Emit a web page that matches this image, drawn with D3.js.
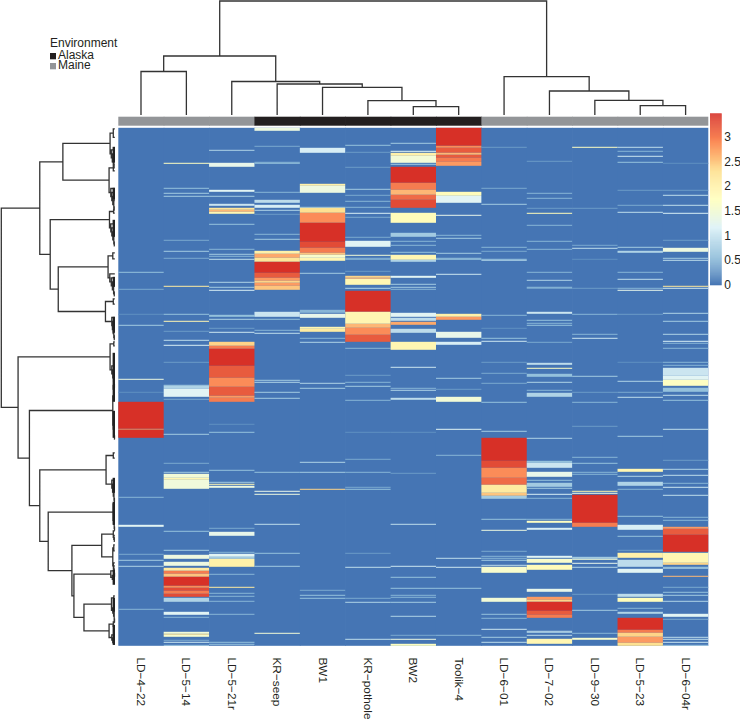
<!DOCTYPE html>
<html><head><meta charset="utf-8">
<script src="https://cdn.jsdelivr.net/npm/d3@7"></script>
<style>html,body{margin:0;padding:0;background:#fff}svg{display:block}text{font-family:"Liberation Sans",Arial,sans-serif;fill:#231f20}</style>
</head><body><svg id="c" width="740" height="720"></svg>
<script>
const columns = ["LD\u22124\u221222","LD\u22125\u221214","LD\u22125\u221221r","KR\u2212seep","BW1","KR\u2212pothole","BW2","Toolik\u22124","LD\u22126\u221201","LD\u22127\u221202","LD\u22129\u221230","LD\u22125\u221223","LD\u22126\u221204r"];
const environment = ["Maine","Maine","Maine","Alaska","Alaska","Alaska","Alaska","Alaska","Maine","Maine","Maine","Maine","Maine"];
const envNames = ["Alaska","Maine"];
const envColors = ["#231f20","#939598"];
const rampColors = ["#4575b4","#91bfdb","#e0f3f8","#ffffbf","#fee090","#fc8d59","#d73027"];
const legendTicks = [0,0.5,1,1.5,2,2.5,3];
const maxValue = 3.47;
const rowCount = 518;

// [row, value] = one row, [firstRow, endRow, value] = a run of rows
const col0 = [[144,.6],[161,.4],[186,.2],[197,.7],[251,1.4],[264,.2],[274,301,3.47],[301,2.9],[302,310,3.47],[369,.5],[397,399,1.2],[426,.4],[432,.7],[438,.8],[481,.5]];
const col1 = [[35,1.7],[60,.6],[65,.7],[68,.7],[112,.4],[123,.7],[130,.4],[158,2.1],[186,187,.6],[193,1.9],[203,.3],[212,.9],[217,1.1],[234,.3],[257,258,.7],[258,261,.8],[261,269,1.2],[271,.4],[306,.7],[335,.4],[344,.7],[346,350,1.5],[350,352,1.9],[352,361,1.45],[403,.6],[422,.7],[427,431,1.4],[434,438,1.4],[440,443,2.1],[443,446,3],[446,449,2.5],[449,458,3.47],[458,460,2.9],[460,463,3.3],[463,466,3],[466,469,3.3],[470,474,.8],[484,487,1.2],[489,.5],[504,506,1.5],[506,507,2.3],[507,509,1.6],[512,.4],[514,1],[517,.7]];
const col2 = [[22,.8],[35,39,1.3],[62,64,1.2],[68,.7],[76,78,1],[80,82,2.2],[82,84,2.6],[84,86,1.9],[96,.6],[121,.5],[126,.7],[131,.9],[128,.5],[154,.8],[159,.7],[162,1.1],[187,189,.6],[191,.8],[200,.3],[204,1],[214,218,2.4],[218,221,3],[221,238,3.47],[238,250,3.2],[250,259,2.9],[259,268,3.2],[268,270,2.8],[270,274,3],[296,.2],[304,.6],[342,.6],[354,.7],[356,1.9],[358,360,1.4],[400,.4],[404,408,1.3],[424,.5],[426,429,1.2],[429,431,.7],[431,439,2],[446,.5],[459,2.1],[465,.5],[468,.5],[473,.5],[486,.5],[514,.6],[516,.6]];
const col3 = [[0,3,1.4],[18,.4],[34,.5],[35,.6],[64,.5],[72,75,.9],[77,80,1.1],[82,.8],[86,.3],[106,.5],[111,.7],[123,126,2],[126,130,2.7],[130,134,2.2],[134,145,3.47],[145,150,3.2],[150,153,2.8],[153,155,2.4],[155,158,2.8],[158,162,2.5],[184,189,1],[191,.6],[202,203,.5],[205,.9],[252,.7],[254,.8],[264,.7],[270,.7],[344,.6],[363,1.3],[366,367,1.4],[396,.9],[425,.6],[438,.7],[505,1.5]];
const col4 = [[20,25,1.1],[56,58,2],[58,65,1.4],[79,.7],[80,85,2.3],[85,95,2.9],[95,114,3.47],[114,120,3.3],[120,125,3],[125,127,2.5],[127,130,1.6],[130,133,1.9],[145,.7],[182,185,.5],[186,190,1.3],[199,201,1.9],[201,204,2.1],[210,.5],[214,.8],[255,.8],[260,.7],[334,.8],[344,.7],[361,362,2.4],[462,.4],[467,.6],[470,.6]];
const col5 = [[17,.6],[24,.3],[39,.3],[61,.7],[67,.4],[73,.5],[79,.5],[85,1.1],[89,.4],[109,.4],[113,119,1.2],[127,1.5],[130,.5],[131,.5],[143,.3],[148,150,2.4],[150,151,2.7],[151,157,1.9],[160,.8],[163,184,3.47],[184,196,1.9],[196,200,2.6],[200,207,2.9],[207,214,3.2],[220,.5],[247,.3],[254,.5],[258,.7],[272,.5],[304,.2],[331,.4],[344,.5],[359,.4],[361,.6],[425,.3],[439,.9],[470,.4],[474,.8],[511,.9]];
const col6 = [[15,16,.7],[23,1.2],[25,28,2],[28,35,1.5],[36,.7],[39,55,3.47],[55,62,3],[62,67,2.6],[67,72,3.1],[72,80,3.3],[85,95,1.8],[105,109,.7],[113,.5],[117,.5],[124,.6],[127,132,1.9],[132,134,.8],[148,150,1.2],[156,.7],[159,.7],[161,.5],[185,189,1.2],[190,193,.9],[194,197,2.7],[201,205,.9],[214,222,1.9],[239,1],[260,.5],[262,263,.8],[270,272,.9],[304,.2],[345,.3],[396,.9],[438,1],[449,.6],[460,.6],[467,.5],[469,.5],[474,.7],[488,.8],[507,.4],[511,1.4],[516,518,1.7]];
const col7 = [[0,18,3.47],[18,20,2.9],[20,25,3.2],[25,27,2.6],[27,30,3.2],[30,34,3],[34,38,2.8],[64,68,1.8],[68,75,1.2],[87,88,1.3],[107,.5],[110,.7],[125,.7],[130,.6],[131,.6],[146,1],[186,189,2],[189,192,2.8],[204,210,1.3],[214,217,1.1],[250,251,.7],[261,.3],[269,274,1.5],[301,1.2],[327,.5],[430,.9],[439,1],[460,.6],[507,.5]];
const col8 = [[19,.3],[60,.4],[76,.7],[119,.5],[123,.4],[131,.6],[132,.8],[187,188,.5],[200,.2],[210,.6],[213,1],[234,.3],[245,.4],[255,.4],[274,.6],[303,.7],[310,333,3.47],[333,340,3.3],[340,350,2.9],[350,357,3.1],[357,365,2.1],[365,368,2.5],[368,371,.7],[391,.6],[402,1.4],[423,.4],[428,.5],[430,.5],[432,.7],[437,.9],[439,445,1.6],[470,474,1.5],[486,.6],[490,.5],[501,1],[509,.7],[514,.9]];
const col9 = [[33,.3],[65,.5],[70,.5],[80,.3],[85,86,1.8],[97,.5],[113,.5],[121,.5],[144,.5],[152,.8],[159,.6],[160,.4],[184,186,1],[192,.6],[195,.5],[197,.6],[214,.4],[235,237,.9],[240,1.7],[246,249,.6],[254,.8],[262,.5],[265,269,.8],[310,.8],[333,335,.6],[335,340,1],[344,349,1.3],[352,.6],[355,359,.7],[360,.7],[366,1.1],[370,.5],[391,.5],[393,395,1.7],[400,402,1.1],[428,430,1.2],[431,435,1.6],[437,442,1.8],[461,464,1.3],[469,472,2.8],[472,474,2.4],[474,483,3.47],[483,487,3.2],[487,490,3],[503,.9],[504,.8],[507,.9],[511,516,1.9]];
const col10 = [[19,1.7],[80,.3],[117,.4],[120,.9],[131,.2],[160,.3],[186,.5],[206,.5],[210,1],[248,.7],[264,.3],[274,.5],[298,.3],[329,330,.5],[335,.6],[344,.5],[346,.5],[363,2],[365,1.4],[367,395,3.47],[395,399,3],[429,431,.7],[431,1.5],[435,1.3],[439,.8],[466,.3],[482,.7],[505,.5],[510,512,1.6]];
const col11 = [[19,.9],[23,.5],[28,1],[34,.6],[62,.3],[77,.4],[84,.9],[119,.7],[123,125,.8],[144,.5],[151,.9],[160,.5],[162,1.3],[186,.3],[234,.2],[253,.8],[264,.4],[269,.9],[308,.7],[341,344,1.9],[348,.8],[354,358,.8],[361,.5],[388,.6],[397,402,1.1],[408,.6],[422,.3],[425,430,2],[432,439,.9],[441,445,1.2],[466,469,.9],[470,474,1.8],[480,.5],[484,486,.8],[490,502,3.47],[502,505,3],[505,509,2.4],[509,515,2.8],[515,518,2.3]];
const col12 = [[35,.2],[62,.3],[67,.9],[77,.9],[85,1.1],[112,.3],[120,124,1.4],[130,.7],[132,.9],[158,159,2.2],[160,1],[185,.8],[193,.7],[206,.8],[213,1.1],[215,.5],[220,.5],[234,.5],[237,.5],[240,248,1],[248,252,1.2],[252,258,1.7],[260,264,.6],[267,.9],[272,.6],[301,.9],[332,.3],[341,.8],[347,.9],[355,.5],[359,1],[367,.9],[389,.5],[392,.5],[399,401,2.8],[401,407,3.2],[407,424,3.47],[425,435,1.9],[435,437,2.4],[439,.7],[440,.7],[448,449,2.6],[459,.4],[464,.6],[467,.7],[473,.8],[486,489,1.2],[491,.4],[509,.9],[511,.9],[514,1],[517,.7]];
const columnBands = [col0,col1,col2,col3,col4,col5,col6,col7,col8,col9,col10,col11,col12];

// dendrograms: [mergeHeight, childA, childB]; leaves are column or row positions
const columnTree = [114,
  [59,[43.5,0,1],[33.5,2,[31,3,[27.7,4,[14.3,5,[8.3,6,7]]]]]],
  [38.3,8,[24,9,[14.7,10,[9.3,11,12]]]]];

const c1 = [4.7,[1.5,1,9.6],[3.5,22,[2.5,26,[1.5,30,[.7,36,40]]]]];
const c2 = [5.7,[1.5,37,43],[4,60.7,[3,64.7,[2,68.7,[1,72.7,[.6,79,82.4]]]]]];
const c3 = [5.3,[1.2,82,85.4],[4,96,[3,100,[2,104,[1,108,[.5,114,118]]]]]];
const c4 = [6.7,[2,125,131],[5,146,[3.5,150,[2.4,154,[1.2,158,[.5,164,168]]]]]];
const c5 = [9.3,[1.5,171,176.4],[3,189.7,[2.4,193.7,[1.6,197.7,[1,201.7,[.5,207.7,211.7]]]]]];
const c6 = [4.7,[1,214,218],[3,238,[2,242,[1.2,246,[.7,250,[.4,256,260]]]]]];
const cRed = [2,268,[1.5,293.4,[1,297.4,[.5,301.4,[.3,307.4,311.4]]]]];
const c7 = [8.7,[1.5,325,330.4],[3,352.3,[2.2,356.3,[1.5,360.3,[.8,364.3,[.4,370.3,374.3]]]]]];
const c8 = [1.7,376,[1.2,388.6,[.6,392.6,[.3,398.6,402.6]]]];
const c9 = [1.5,403,[1,407.6,[.5,409.6,413.6]]];
const c10 = [2,[1,417,423],[1.4,435,[1,438,[.6,441,[.3,445,449]]]]];
const c11 = [4,443,[2.5,447.6,[1.2,450,[.6,452,454.4]]]];
const c12 = [3.3,[1,468,472],[2,480,[1.2,482,[.6,484,[.3,490.8,494.8]]]]];
const c13 = [5.7,[1.5,494,498.6],[3,507,[2,510,[1,513,516.6]]]];
const rowTree = [113,
  [74.7,[51.7,c1,c2],[64.3,c3,[56.3,c4,c5]]],
  [96.3,c6,[85,cRed,[74.7,c7,[66.3,c8,[42.7,[13,c9,c10],[40.7,c11,[30.7,c12,c13]]]]]]]];
// row runs whose many tiny merges read as a solid edge in the dendrogram
const denseLeafRuns = [[19,35],[60,72],[92,109],[149,159],[189,205],[225,262],[257,274],[283,310],[350,365],[374,397],[442,457],[470,484],[497,517]];

const svg = d3.select("#c");
const ink = "#333333";
const x = d3.scaleBand().domain(d3.range(columns.length)).range([118.3,708.3]).paddingInner(0).paddingOuter(0);
const y = d3.scaleLinear().domain([0,rowCount]).range([127.8,645.8]);
const color = d3.scaleLinear().domain(rampColors.map((_,i)=>i/(rampColors.length-1)*maxValue)).range(rampColors).interpolate(d3.interpolateRgb);
const cellW = i => x.bandwidth() + (i < columns.length-1 ? 0.7 : 0);

// heatmap
const cols = svg.append("g").selectAll("g").data(columnBands).join("g").attr("transform",(d,i)=>`translate(${x(i)},0)`);
cols.append("rect").attr("x",0).attr("width",(d,i)=>cellW(i)).attr("y",y(0)).attr("height",y(rowCount)-y(0)).attr("fill",color(0));
cols.each(function(bands,i){
  d3.select(this).selectAll("rect.band").data(bands.map(b=>b.length===2?[b[0],b[0]+1,b[1]]:b)).join("rect").attr("class","band")
    .attr("x",0).attr("width",cellW(i)).attr("y",d=>y(d[0])).attr("height",d=>y(d[1])-y(d[0])).attr("fill",d=>color(d[2]));
});
// later columns sit on top of the overlap so no seams show
// annotation strip
svg.append("g").selectAll("rect").data(environment).join("rect")
  .attr("x",(d,i)=>x(i)).attr("width",(d,i)=>cellW(i)).attr("y",116.7).attr("height",9)
  .attr("fill",d=>envColors[envNames.indexOf(d)]);

// column dendrogram
const hTop = d3.scaleLinear().domain([0,114]).range([115,1]);
function drawTop(n,p){
  if(typeof n==="number") return {c:x(n)+x.bandwidth()/2,h:0};
  const a=drawTop(n[1],p), b=drawTop(n[2],p), Y=hTop(n[0]);
  p.moveTo(a.c,hTop(a.h)); p.lineTo(a.c,Y); p.lineTo(b.c,Y); p.lineTo(b.c,hTop(b.h));
  return {c:(a.c+b.c)/2,h:n[0]};
}
const pTop=d3.path(); drawTop(columnTree,pTop);
svg.append("path").attr("d",pTop.toString()).attr("fill","none").attr("stroke",ink).attr("stroke-width",1.3);

// row dendrogram
const hLeft = d3.scaleLinear().domain([0,113]).range([114.8,1.3]);
function drawLeft(n,p){
  if(typeof n==="number") return {c:y(n),h:0};
  const a=drawLeft(n[1],p), b=drawLeft(n[2],p), X=hLeft(n[0]);
  p.moveTo(hLeft(a.h),a.c); p.lineTo(X,a.c); p.lineTo(X,b.c); p.lineTo(hLeft(b.h),b.c);
  return {c:(a.c+b.c)/2,h:n[0]};
}
const pLeft=d3.path(); drawLeft(rowTree,pLeft);
svg.append("path").attr("d",pLeft.toString()).attr("fill","none").attr("stroke",ink).attr("stroke-width",1.3);
svg.append("g").selectAll("line").data(denseLeafRuns).join("line")
  .attr("x1",hLeft(1)).attr("x2",hLeft(1)).attr("y1",d=>y(d[0])).attr("y2",d=>y(d[1]))
  .attr("stroke","#222").attr("stroke-width",2.4);

// column labels
const axisB = d3.axisBottom(x).tickSize(0).tickFormat(i=>columns[i]);
const gB = svg.append("g").attr("transform","translate(0,657.5)").call(axisB);
gB.select(".domain").remove();
gB.selectAll("text").attr("font-size",11.8).style("font-family",'"Liberation Sans",Arial,sans-serif').attr("fill","#231f20")
  .attr("text-anchor","start").attr("dy",0).attr("y",0).attr("x",0)
  .attr("dominant-baseline","central").attr("transform","rotate(90)");

// colour legend
const lg = d3.scaleLinear().domain([0,3]).range([285,137]);
svg.append("g").selectAll("rect").data(d3.range(0,maxValue,0.02)).join("rect")
  .attr("x",710).attr("width",11.7).attr("y",d=>lg(d+0.02)).attr("height",d=>lg(d)-lg(d+0.02)+.3).attr("fill",d=>color(d));
const axisR = d3.axisRight(lg).tickValues(legendTicks).tickSize(0).tickFormat(d3.format("~g"));
const gR = svg.append("g").attr("transform","translate(721.7,-.5)").call(axisR);
gR.select(".domain").remove();
gR.selectAll("text").attr("x",2.5).attr("font-size",12).style("font-family",'"Liberation Sans",Arial,sans-serif').attr("fill","#231f20");

// environment legend
svg.append("text").attr("x",50).attr("y",47).attr("font-size",12).text("Environment");
const leg = svg.append("g").selectAll("g").data(envNames).join("g");
const legY = d3.scalePoint().domain(envNames).range([59,69]);
leg.append("rect").attr("x",50).attr("width",6).attr("y",d=>legY(d)-6).attr("height",6.3).attr("fill",(d,i)=>envColors[i]);
leg.append("text").attr("x",58).attr("y",d=>legY(d)+.3).attr("font-size",12).text(d=>d);
</script></body></html>
